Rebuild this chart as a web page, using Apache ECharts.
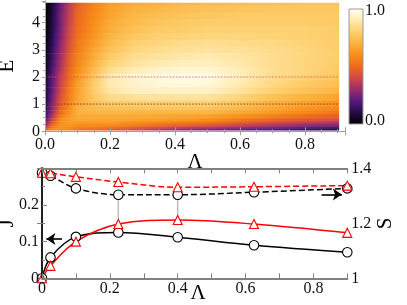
<!DOCTYPE html>
<html><head><meta charset="utf-8">
<script src="https://cdn.jsdelivr.net/npm/echarts@6/dist/echarts.min.js"></script>
<style>html,body{margin:0;padding:0;background:#fff}#c{width:407px;height:305px}</style>
</head><body><div id="c"></div>
<script>
// ---------- top panel: heat map (rows = E, columns = Lambda) ----------
const lambdaCols = [0, 0.01, 0.02, 0.035, 0.05, 0.075, 0.1, 0.15, 0.2, 0.275, 0.35, 0.425, 0.5, 0.6, 0.7, 0.8, 0.9];
const energyRows = [4.75, 4.5, 4.25, 4.0, 3.75, 3.5, 3.25, 3.0, 2.75, 2.5, 2.25, 2.0, 1.75, 1.5, 1.25, 1.0, 0.85, 0.7, 0.55, 0.42, 0.32, 0.23, 0.15, 0.08];
const zRows = [
  [0.00,0.03,0.07,0.15,0.24,0.36,0.47,0.57,0.64,0.68,0.70,0.72,0.73,0.74,0.75,0.76,0.76],
  [0.00,0.03,0.08,0.16,0.25,0.37,0.48,0.58,0.65,0.70,0.72,0.74,0.75,0.76,0.77,0.77,0.77],
  [0.00,0.04,0.08,0.17,0.26,0.38,0.49,0.59,0.66,0.72,0.74,0.76,0.77,0.78,0.78,0.78,0.78],
  [0.01,0.04,0.09,0.17,0.26,0.39,0.50,0.60,0.68,0.73,0.76,0.78,0.79,0.79,0.79,0.79,0.78],
  [0.01,0.05,0.09,0.18,0.27,0.40,0.51,0.61,0.69,0.75,0.78,0.79,0.80,0.80,0.80,0.80,0.79],
  [0.01,0.05,0.10,0.19,0.28,0.41,0.52,0.62,0.71,0.77,0.80,0.81,0.82,0.82,0.81,0.80,0.79],
  [0.01,0.06,0.11,0.20,0.30,0.43,0.54,0.64,0.73,0.80,0.82,0.84,0.85,0.84,0.83,0.81,0.79],
  [0.02,0.07,0.12,0.22,0.31,0.44,0.55,0.66,0.75,0.82,0.85,0.86,0.87,0.86,0.84,0.82,0.79],
  [0.02,0.08,0.14,0.24,0.33,0.46,0.57,0.68,0.78,0.85,0.87,0.89,0.90,0.88,0.85,0.82,0.79],
  [0.02,0.09,0.16,0.25,0.34,0.47,0.58,0.70,0.81,0.87,0.90,0.92,0.92,0.89,0.85,0.82,0.79],
  [0.03,0.10,0.17,0.27,0.36,0.49,0.60,0.73,0.85,0.91,0.94,0.95,0.95,0.91,0.85,0.82,0.78],
  [0.04,0.12,0.19,0.29,0.38,0.51,0.63,0.77,0.90,0.95,0.97,0.98,0.98,0.92,0.85,0.81,0.77],
  [0.05,0.13,0.20,0.30,0.40,0.53,0.64,0.78,0.90,0.94,0.96,0.97,0.96,0.90,0.83,0.78,0.74],
  [0.06,0.14,0.21,0.32,0.42,0.55,0.65,0.79,0.88,0.92,0.93,0.93,0.93,0.87,0.80,0.75,0.71],
  [0.07,0.15,0.23,0.34,0.44,0.56,0.66,0.77,0.84,0.86,0.87,0.87,0.87,0.82,0.75,0.70,0.66],
  [0.08,0.17,0.25,0.36,0.47,0.58,0.68,0.75,0.79,0.80,0.80,0.81,0.81,0.76,0.70,0.66,0.62],
  [0.10,0.19,0.27,0.38,0.49,0.60,0.69,0.73,0.75,0.76,0.76,0.76,0.76,0.72,0.67,0.62,0.58],
  [0.12,0.21,0.29,0.40,0.51,0.61,0.70,0.71,0.71,0.71,0.71,0.71,0.71,0.67,0.63,0.58,0.53],
  [0.15,0.24,0.33,0.45,0.56,0.63,0.68,0.68,0.68,0.68,0.67,0.66,0.65,0.61,0.56,0.51,0.47],
  [0.18,0.28,0.38,0.50,0.60,0.64,0.66,0.66,0.66,0.65,0.64,0.62,0.60,0.54,0.48,0.44,0.41],
  [0.22,0.33,0.43,0.53,0.61,0.63,0.63,0.63,0.63,0.60,0.58,0.55,0.53,0.47,0.41,0.37,0.34],
  [0.28,0.38,0.48,0.56,0.62,0.62,0.60,0.60,0.60,0.56,0.52,0.49,0.46,0.40,0.35,0.31,0.28],
  [0.34,0.44,0.53,0.58,0.61,0.59,0.56,0.55,0.53,0.48,0.43,0.39,0.36,0.31,0.27,0.22,0.19],
  [0.40,0.50,0.57,0.60,0.60,0.57,0.52,0.50,0.47,0.42,0.36,0.31,0.27,0.23,0.20,0.15,0.10]
];
const heatLambdaRange = [0, 0.905];
const heatEnergyRange = [0.05, 4.74];
const guideEnergies = [1, 2];
const colorbarLabels = ['1.0', '0.0'];

// ---------- bottom panel ----------
const lambdaPts = [0, 0.025, 0.1, 0.225, 0.4, 0.625, 0.9];
const jBlack = [0, 0.057, 0.113, 0.125, 0.112, 0.090, 0.071];
const jRed   = [0, 0.034, 0.100, 0.148, 0.159, 0.148, 0.124];
const sBlack = [1.384, 1.373, 1.327, 1.304, 1.304, 1.313, 1.327];
const sRed   = [1.384, 1.382, 1.369, 1.350, 1.331, 1.333, 1.337];
const linkIdx = [3, 4];
const jRange = [0, 0.3];
const sRange = [1, 1.4];
const arrowLeft = [[0.059, 0.107], [0.013, 0.107]];
const arrowRight = [[0.824, 1.305], [0.884, 1.305]];

// ---------- colour map ----------
const cmapStops = [
  [0.00, [0, 0, 0]], [0.10, [36, 12, 68]], [0.20, [85, 25, 127]], [0.30, [154, 43, 106]],
  [0.40, [208, 71, 74]], [0.50, [238, 106, 28]], [0.60, [248, 142, 24]], [0.70, [251, 178, 62]],
  [0.80, [253, 208, 112]], [0.90, [255, 234, 176]], [1.00, [255, 255, 245]]
];
function cmap(v) {
  v = Math.max(0, Math.min(1, v));
  for (let k = 1; k < cmapStops.length; k++) {
    const a = cmapStops[k - 1], b = cmapStops[k];
    if (v <= b[0]) {
      const t = (v - a[0]) / (b[0] - a[0]);
      const c = a[1].map((x, m) => Math.round(x + (b[1][m] - x) * t));
      return 'rgb(' + c.join(',') + ')';
    }
  }
  return 'rgb(255,255,245)';
}

const FONT = "'Liberation Serif', 'Times New Roman', Times, serif";
const near = (v, step) => Math.abs(v / step - Math.round(v / step)) < 1e-6;
const chart = echarts.init(document.getElementById('c'), null, {renderer: 'canvas'});

const frameTop = {color: '#a0a0a0', width: 1};
const frameBot = {color: '#808080', width: 2};
const lab = {fontFamily: FONT, fontSize: 16, color: '#111'};
const nameStyle = {fontFamily: FONT, fontSize: 21, color: '#000'};

const option = {
  animation: false,
  backgroundColor: '#fff',
  grid: [
    {left: 45, top: 1, width: 300, height: 130.3, outerBoundsMode: 'none', containLabel: false},
    {left: 42, top: 168.3, width: 305.3, height: 110, outerBoundsMode: 'none', containLabel: false}
  ],
  xAxis: [
    {type: 'value', gridIndex: 0, min: 0, max: 0.923, interval: 0.2, z: 10,
     axisLine: {lineStyle: frameTop}, axisTick: {inside: true, length: 4, lineStyle: frameTop},
     minorTick: {show: true, splitNumber: 4, length: 2, lineStyle: frameTop}, splitLine: {show: false},
     axisLabel: Object.assign({margin: 5, formatter: v => near(v, 0.2) ? v.toFixed(1) : ''}, lab),
     name: 'Λ', nameLocation: 'middle', nameGap: 21, nameMoveOverlap: false, nameTextStyle: nameStyle},
    {type: 'value', gridIndex: 0, position: 'top', min: 0, max: 0.923, interval: 0.2, z: 10,
     axisLine: {lineStyle: frameTop}, axisTick: {inside: true, length: 4, lineStyle: frameTop},
     minorTick: {show: true, splitNumber: 4, length: 2, lineStyle: frameTop}, splitLine: {show: false},
     axisLabel: {show: false}},
    {type: 'value', gridIndex: 1, min: 0, max: 0.9, interval: 0.2, z: 10,
     axisLine: {lineStyle: frameBot}, axisTick: {inside: true, length: 5, lineStyle: {color: '#808080', width: 1}},
     minorTick: {show: true, splitNumber: 2, length: 5, lineStyle: {color: '#808080', width: 1}}, splitLine: {show: false},
     axisLabel: Object.assign({margin: 2, formatter: v => v === 0 ? '0' : (near(v, 0.2) ? v.toFixed(1) : '')}, lab),
     name: 'Λ', nameLocation: 'middle', nameGap: 5, nameMoveOverlap: false, nameTextStyle: Object.assign({padding: [0, 0, 0, 7]}, nameStyle)},
    {type: 'value', gridIndex: 1, position: 'top', min: 0, max: 0.9, interval: 0.2, z: 10,
     axisLine: {lineStyle: frameBot}, axisTick: {inside: true, length: 5, lineStyle: {color: '#808080', width: 1}},
     minorTick: {show: true, splitNumber: 2, length: 5, lineStyle: {color: '#808080', width: 1}}, splitLine: {show: false},
     axisLabel: {show: false}}
  ],
  yAxis: [
    {type: 'value', gridIndex: 0, min: 0, max: 4.8, interval: 1, z: 10,
     axisLine: {show: true, lineStyle: frameTop}, axisTick: {show: true, inside: false, length: 3, lineStyle: frameTop},
     minorTick: {show: true, splitNumber: 4, length: 2, lineStyle: frameTop}, splitLine: {show: false},
     axisLabel: Object.assign({margin: 5, formatter: v => near(v, 1) ? String(Math.round(v)) : ''}, lab),
     name: 'E', nameLocation: 'middle', nameGap: 27, nameMoveOverlap: false, nameTextStyle: nameStyle},
    {type: 'value', gridIndex: 0, position: 'right', min: 0, max: 4.8, interval: 1, z: 10,
     axisLine: {show: true, lineStyle: frameTop}, axisTick: {show: true, inside: true, length: 3, lineStyle: frameTop},
     minorTick: {show: true, splitNumber: 4, length: 2, lineStyle: frameTop}, splitLine: {show: false},
     axisLabel: {show: false}},
    {type: 'value', gridIndex: 1, min: jRange[0], max: jRange[1], interval: 0.1, z: 10,
     axisLine: {show: true, lineStyle: frameBot}, axisTick: {show: true, inside: true, length: 5, lineStyle: {color: '#808080', width: 1}},
     minorTick: {show: true, splitNumber: 2, length: 3, lineStyle: {color: '#808080', width: 1}}, splitLine: {show: false},
     axisLabel: Object.assign({margin: 3, formatter: v => v === 0 ? '0' : (v > 0.25 ? '' : v.toFixed(1))}, lab),
     name: 'J', nameLocation: 'middle', nameGap: 24, nameMoveOverlap: false, nameTextStyle: nameStyle},
    {type: 'value', gridIndex: 1, position: 'right', min: sRange[0], max: sRange[1], interval: 0.2, z: 10,
     axisLine: {show: true, lineStyle: {color: '#000', width: 1.5}}, axisTick: {show: true, inside: true, length: 5, lineStyle: {color: '#808080', width: 1}},
     minorTick: {show: false}, splitLine: {show: false},
     axisLabel: Object.assign({margin: 4, formatter: v => v === 1 ? '1' : v.toFixed(1)}, lab),
     name: 'S', nameLocation: 'middle', nameGap: 28, nameMoveOverlap: false, nameTextStyle: nameStyle}
  ],
  graphic: [],
  series: []
};

// heat map rows
option.series.push({
  type: 'custom', xAxisIndex: 0, yAxisIndex: 0, z: 1, clip: true, silent: true,
  data: energyRows.map((e, i) => [i, e]),
  encode: {x: -1, y: 1},
  renderItem: function (params, api) {
    const i = api.value(0);
    const n = energyRows.length;
    const top = i === 0 ? heatEnergyRange[1] : (energyRows[i - 1] + energyRows[i]) / 2;
    const bot = i === n - 1 ? heatEnergyRange[0] : (energyRows[i] + energyRows[i + 1]) / 2;
    const p0 = api.coord([heatLambdaRange[0], top]);
    const p1 = api.coord([heatLambdaRange[1], bot]);
    const span = heatLambdaRange[1] - heatLambdaRange[0];
    const stops = lambdaCols.map((l, j) => ({offset: (l - heatLambdaRange[0]) / span, color: cmap(zRows[i][j])}));
    return {type: 'rect', shape: {x: p0[0], y: p0[1], width: p1[0] - p0[0], height: p1[1] - p0[1] + 0.6},
            style: {fill: new echarts.graphic.LinearGradient(0, 0, 1, 0, stops)}};
  }
});

// dotted guide lines
const guideStyles = [{color: 'rgba(140,60,30,0.55)'}, {color: 'rgba(235,70,70,0.5)'}];
guideEnergies.forEach((e, k) => {
  option.series.push({
    type: 'line', xAxisIndex: 0, yAxisIndex: 0, z: 3, symbol: 'none', silent: true,
    data: [[heatLambdaRange[0], e], [heatLambdaRange[1], e]],
    lineStyle: {color: guideStyles[k].color, width: 1.6, type: [1.6, 1.6]}
  });
});

// connector lines
option.series.push({
  type: 'custom', xAxisIndex: 2, yAxisIndex: 2, z: 2, silent: true,
  data: linkIdx.map(k => [lambdaPts[k], jRed[k], (sBlack[k] - sRange[0]) / (sRange[1] - sRange[0]) * (jRange[1] - jRange[0]) + jRange[0]]),
  renderItem: function (params, api) {
    const a = api.coord([api.value(0), api.value(1)]);
    const b = api.coord([api.value(0), api.value(2)]);
    return {type: 'line', shape: {x1: a[0], y1: a[1], x2: b[0], y2: b[1]}, style: {stroke: '#bdbdbd', lineWidth: 1.5}};
  }
});

function lineSeries(yIdx, ys, color, dashed, sym, extra) {
  return Object.assign({
    type: 'line', xAxisIndex: 2, yAxisIndex: yIdx, z: dashed ? 4 : 5,
    data: lambdaPts.map((l, i) => [l, ys[i]]),
    smooth: 0.35, symbol: sym, symbolSize: sym === 'triangle' ? 9 : 9.5, showAllSymbol: true,
    itemStyle: {color: '#fff', borderColor: color, borderWidth: 1.1},
    lineStyle: {color: color, width: 1.5, type: dashed ? [6, 3] : 'solid'}
  }, extra || {});
}
const arrowML = (pts) => ({
  silent: true, symbol: ['none', 'arrow'], symbolSize: 9, label: {show: false},
  lineStyle: {color: '#000', width: 1.6, type: 'solid'}, emphasis: {disabled: true},
  data: [[{coord: pts[0]}, {coord: pts[1]}]]
});
option.series.push(lineSeries(3, sBlack, '#000', true, 'circle', {markLine: arrowML(arrowRight)}));
option.series.push(lineSeries(3, sRed, '#ff0000', true, 'triangle'));
option.series.push(lineSeries(2, jBlack, '#000', false, 'circle', {markLine: arrowML(arrowLeft)}));
option.series.push(lineSeries(2, jRed, '#ff0000', false, 'triangle'));

// colour bar
const cbStops = [];
for (let k = 0; k <= 20; k++) cbStops.push({offset: k / 20, color: cmap(1 - k / 20)});
option.graphic = [
  {type: 'rect', left: 348.5, top: 8.5, shape: {width: 14, height: 115}, style: {fill: new echarts.graphic.LinearGradient(0, 0, 0, 1, cbStops), stroke: '#9a9a9a', lineWidth: 1}},
  {type: 'text', left: 365, top: 3, style: {text: colorbarLabels[0], font: '16px ' + FONT, fill: '#111'}},
  {type: 'text', left: 365, top: 113, style: {text: colorbarLabels[1], font: '16px ' + FONT, fill: '#111'}}
];

chart.setOption(option);
</script></body></html>
